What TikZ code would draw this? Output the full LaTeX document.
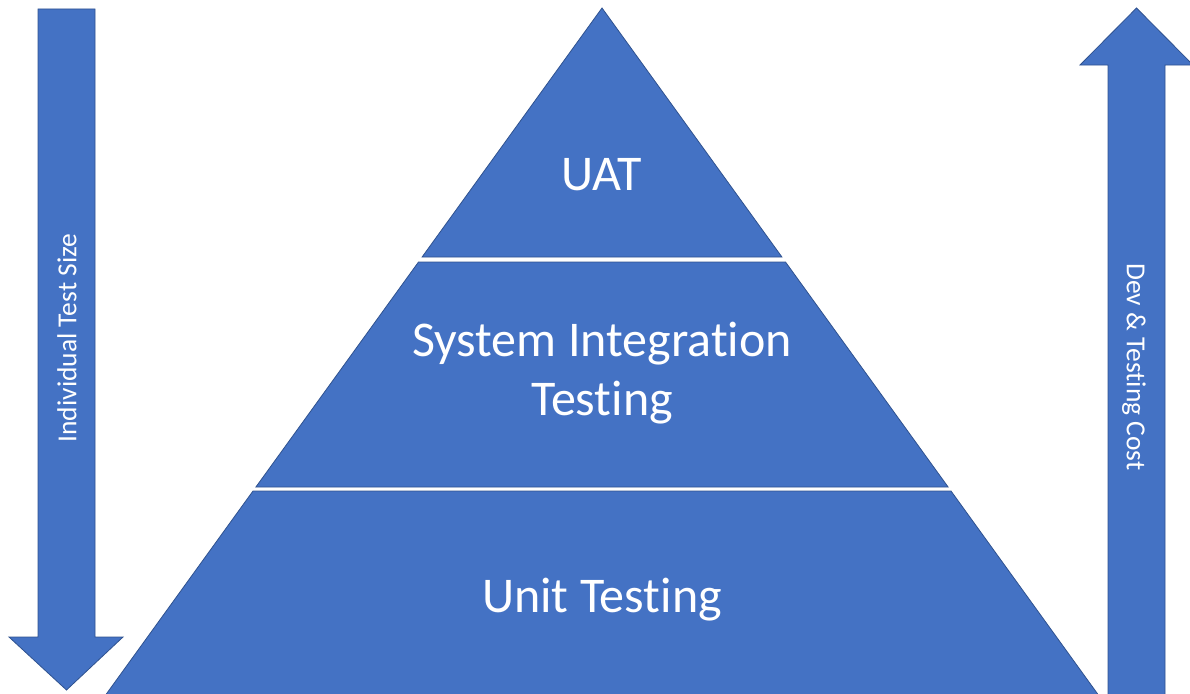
\documentclass[tikz,border=0pt]{standalone}
\usepackage{fontspec}
\setmainfont[RawFeature={-liga;-clig;-calt;-dlig}]{Carlito}
\definecolor{fillblue}{HTML}{4472C4}
\definecolor{edgeblue}{HTML}{2F528F}
\begin{document}
\begin{tikzpicture}[x=1pt,y=-1pt,
  blueshape/.style={fill=fillblue,draw=edgeblue,line width=0.8pt,line join=miter},
  tierlabel/.style={text=white,font=\fontsize{50}{59}\selectfont,align=center,inner sep=0pt},
  sidelabel/.style={text=white,font=\fontsize{27.5}{32}\selectfont,inner sep=0pt}]
\useasboundingbox (0,0) rectangle (1190,693);
\clip (0,0) rectangle (1190,693);
% pyramid tiers
\path[blueshape] (602,8) -- (781.9,257) -- (422.1,257) -- cycle;
\path[blueshape] (418.5,262) -- (785.5,262) -- (948.1,487) -- (255.9,487) -- cycle;
\path[blueshape] (253,491) -- (951,491) -- (1102,700) -- (102,700) -- cycle;
% left arrow (down)
\path[blueshape] (38,9) -- (95,9) -- (95,637) -- (123,637) -- (66.5,690) -- (9,637) -- (38,637) -- cycle;
% right arrow (up)
\path[blueshape] (1136.5,8) -- (1193,65) -- (1165,65) -- (1165,700) -- (1108,700) -- (1108,65) -- (1080,65) -- cycle;
% labels
\node[tierlabel] (uat) at (602,175) {UAT};
\node[tierlabel] (sit) at (602,373) {System Integration\\Testing};
\node[tierlabel] (unit) at (602,600) {Unit Testing};
\node[sidelabel,rotate=90] (size) at (67,338) {Individual Test Size};
\node[sidelabel,rotate=-90] (cost) at (1134,367) {Dev \& Testing Cost};
\end{tikzpicture}
\end{document}
